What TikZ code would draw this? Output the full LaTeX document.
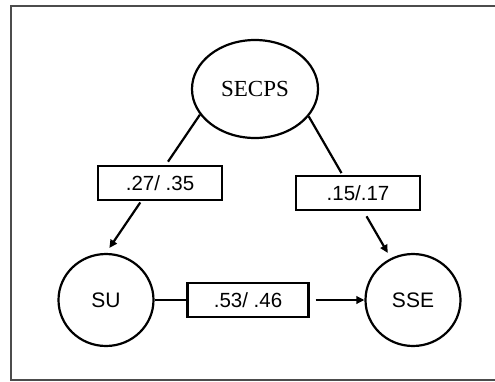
\documentclass[tikz,border=0pt]{standalone}
\usepackage{fontspec}
\setmainfont{Liberation Serif}
\setsansfont{Liberation Sans}
\usetikzlibrary{shapes.geometric,arrows.meta,calc}
\tikzset{
    latent/.style={ellipse, draw, line width=2.2pt, inner sep=0pt},
    coef/.style={rectangle, draw, line width=2.2pt, minimum width=124pt, minimum height=34pt,
        font=\sffamily\fontsize{20.5}{24}\selectfont},
    link/.style={line width=2.2pt},
    tip/.style={-{Triangle[length=8pt,width=7.5pt]}}
}
\begin{document}
\begin{tikzpicture}[x=1pt, y=-1pt]
            \useasboundingbox (0,0) rectangle (495,381);
            \draw[black!70, line width=1.2pt] (495,6) -- (11,6) -- (11,380) -- (495,380);
            \coordinate (P) at (255,89);
            \coordinate (U) at (106,300);
            \coordinate (E) at (413,300);
            \node[latent, minimum width=126pt, minimum height=98pt,
                font=\rmfamily\fontsize{23}{27}\selectfont] (secps) at (P) {SECPS};
            \node[latent, minimum width=95pt, minimum height=92pt,
                font=\sffamily\fontsize{21}{24}\selectfont] (su) at (U) {SU};
            \node[latent, minimum width=95pt, minimum height=92pt,
                font=\sffamily\fontsize{21}{24}\selectfont] (sse) at (E) {SSE};
            \node[coef] (b1) at (160,183) {.27/ .35};
            \node[coef] (b2) at (358,193) {.15/.17};
            \node[coef, minimum width=121pt] (b3) at (248,300) {.53/ .46};
            % SECPS -> SU
            \draw[link] (secps.205) -- ($(secps.205)!0.34!(su.north)$);
            \draw[link, tip, shorten >=6pt] ($(secps.205)!0.635!(su.north)$) -- (su.north);
            % SECPS -> SSE
            \draw[link] (secps.333) -- ($(secps.333)!0.40!(sse.118)$);
            \draw[link, tip, shorten >=6pt] ($(secps.333)!0.705!(sse.118)$) -- (sse.118);
            % SU -> SSE
            \draw[link] (su.east) -- (b3.west);
            \draw[link, tip, shorten <=6pt] (b3.east) -- (sse.west);
        \end{tikzpicture}
\end{document}
